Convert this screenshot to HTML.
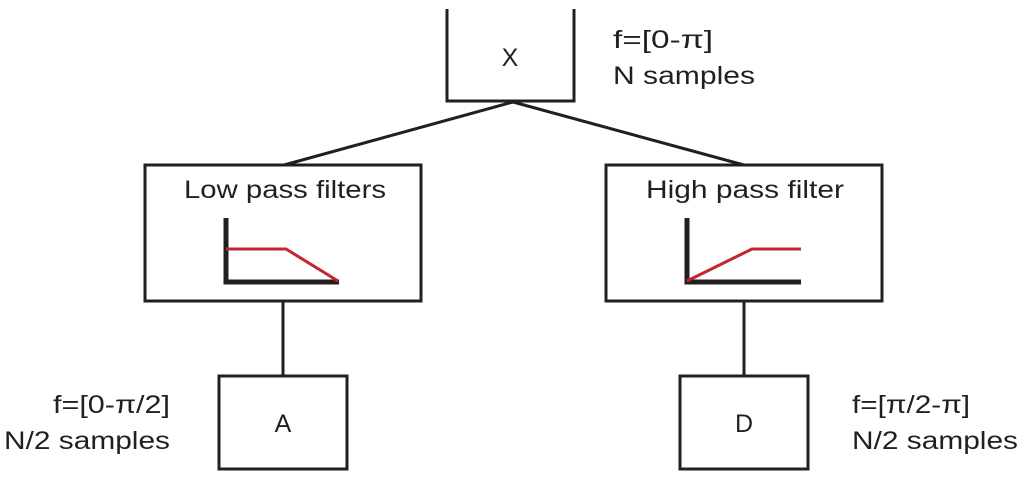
<!DOCTYPE html>
<html><head><meta charset="utf-8"><style>html,body{margin:0;padding:0;background:#fff}svg{display:block}</style></head>
<body>
<svg width="1024" height="484" viewBox="0 0 1024 484" xmlns="http://www.w3.org/2000/svg" font-family="Liberation Sans, sans-serif" fill="#231f20">
<g stroke="#231f20" stroke-width="3" fill="none">
<polyline points="447,9 447,101 574,101 574,9"/>
<rect x="145" y="165" width="276" height="136"/>
<rect x="606" y="165" width="276" height="136"/>
<rect x="219" y="376" width="128" height="93"/>
<rect x="680" y="376" width="128" height="93"/>
<line x1="513" y1="102" x2="284" y2="165"/>
<line x1="513" y1="102" x2="744" y2="165"/>
<line x1="283" y1="301" x2="283" y2="376"/>
<line x1="744" y1="301" x2="744" y2="376"/>
</g>
<g stroke="#231f20" stroke-width="5" fill="none">
<polyline points="226,218 226,282 339,282"/>
<polyline points="687,218 687,282 801,282"/>
</g>
<g stroke="#c1272d" stroke-width="3" fill="none">
<polyline points="226,249 286,249 338,281"/>
<polyline points="687,281 752,249 801,249"/>
</g>
<g font-size="25">
<text x="510" y="66" text-anchor="middle">X</text>
<text x="283" y="432" text-anchor="middle">A</text>
<text x="744" y="432" text-anchor="middle">D</text>
<text x="184" y="198" textLength="202" lengthAdjust="spacingAndGlyphs">Low pass filters</text>
<text x="646" y="198" textLength="198" lengthAdjust="spacingAndGlyphs">High pass filter</text>
<text x="613" y="48" textLength="100" lengthAdjust="spacingAndGlyphs">f=[0-π]</text>
<text x="613" y="84" textLength="142" lengthAdjust="spacingAndGlyphs">N samples</text>
<text x="53" y="413" textLength="117" lengthAdjust="spacingAndGlyphs">f=[0-π/2]</text>
<text x="4" y="449" textLength="166" lengthAdjust="spacingAndGlyphs">N/2 samples</text>
<text x="852" y="413" textLength="118" lengthAdjust="spacingAndGlyphs">f=[π/2-π]</text>
<text x="852" y="449" textLength="166" lengthAdjust="spacingAndGlyphs">N/2 samples</text>
</g>
</svg>
</body></html>
